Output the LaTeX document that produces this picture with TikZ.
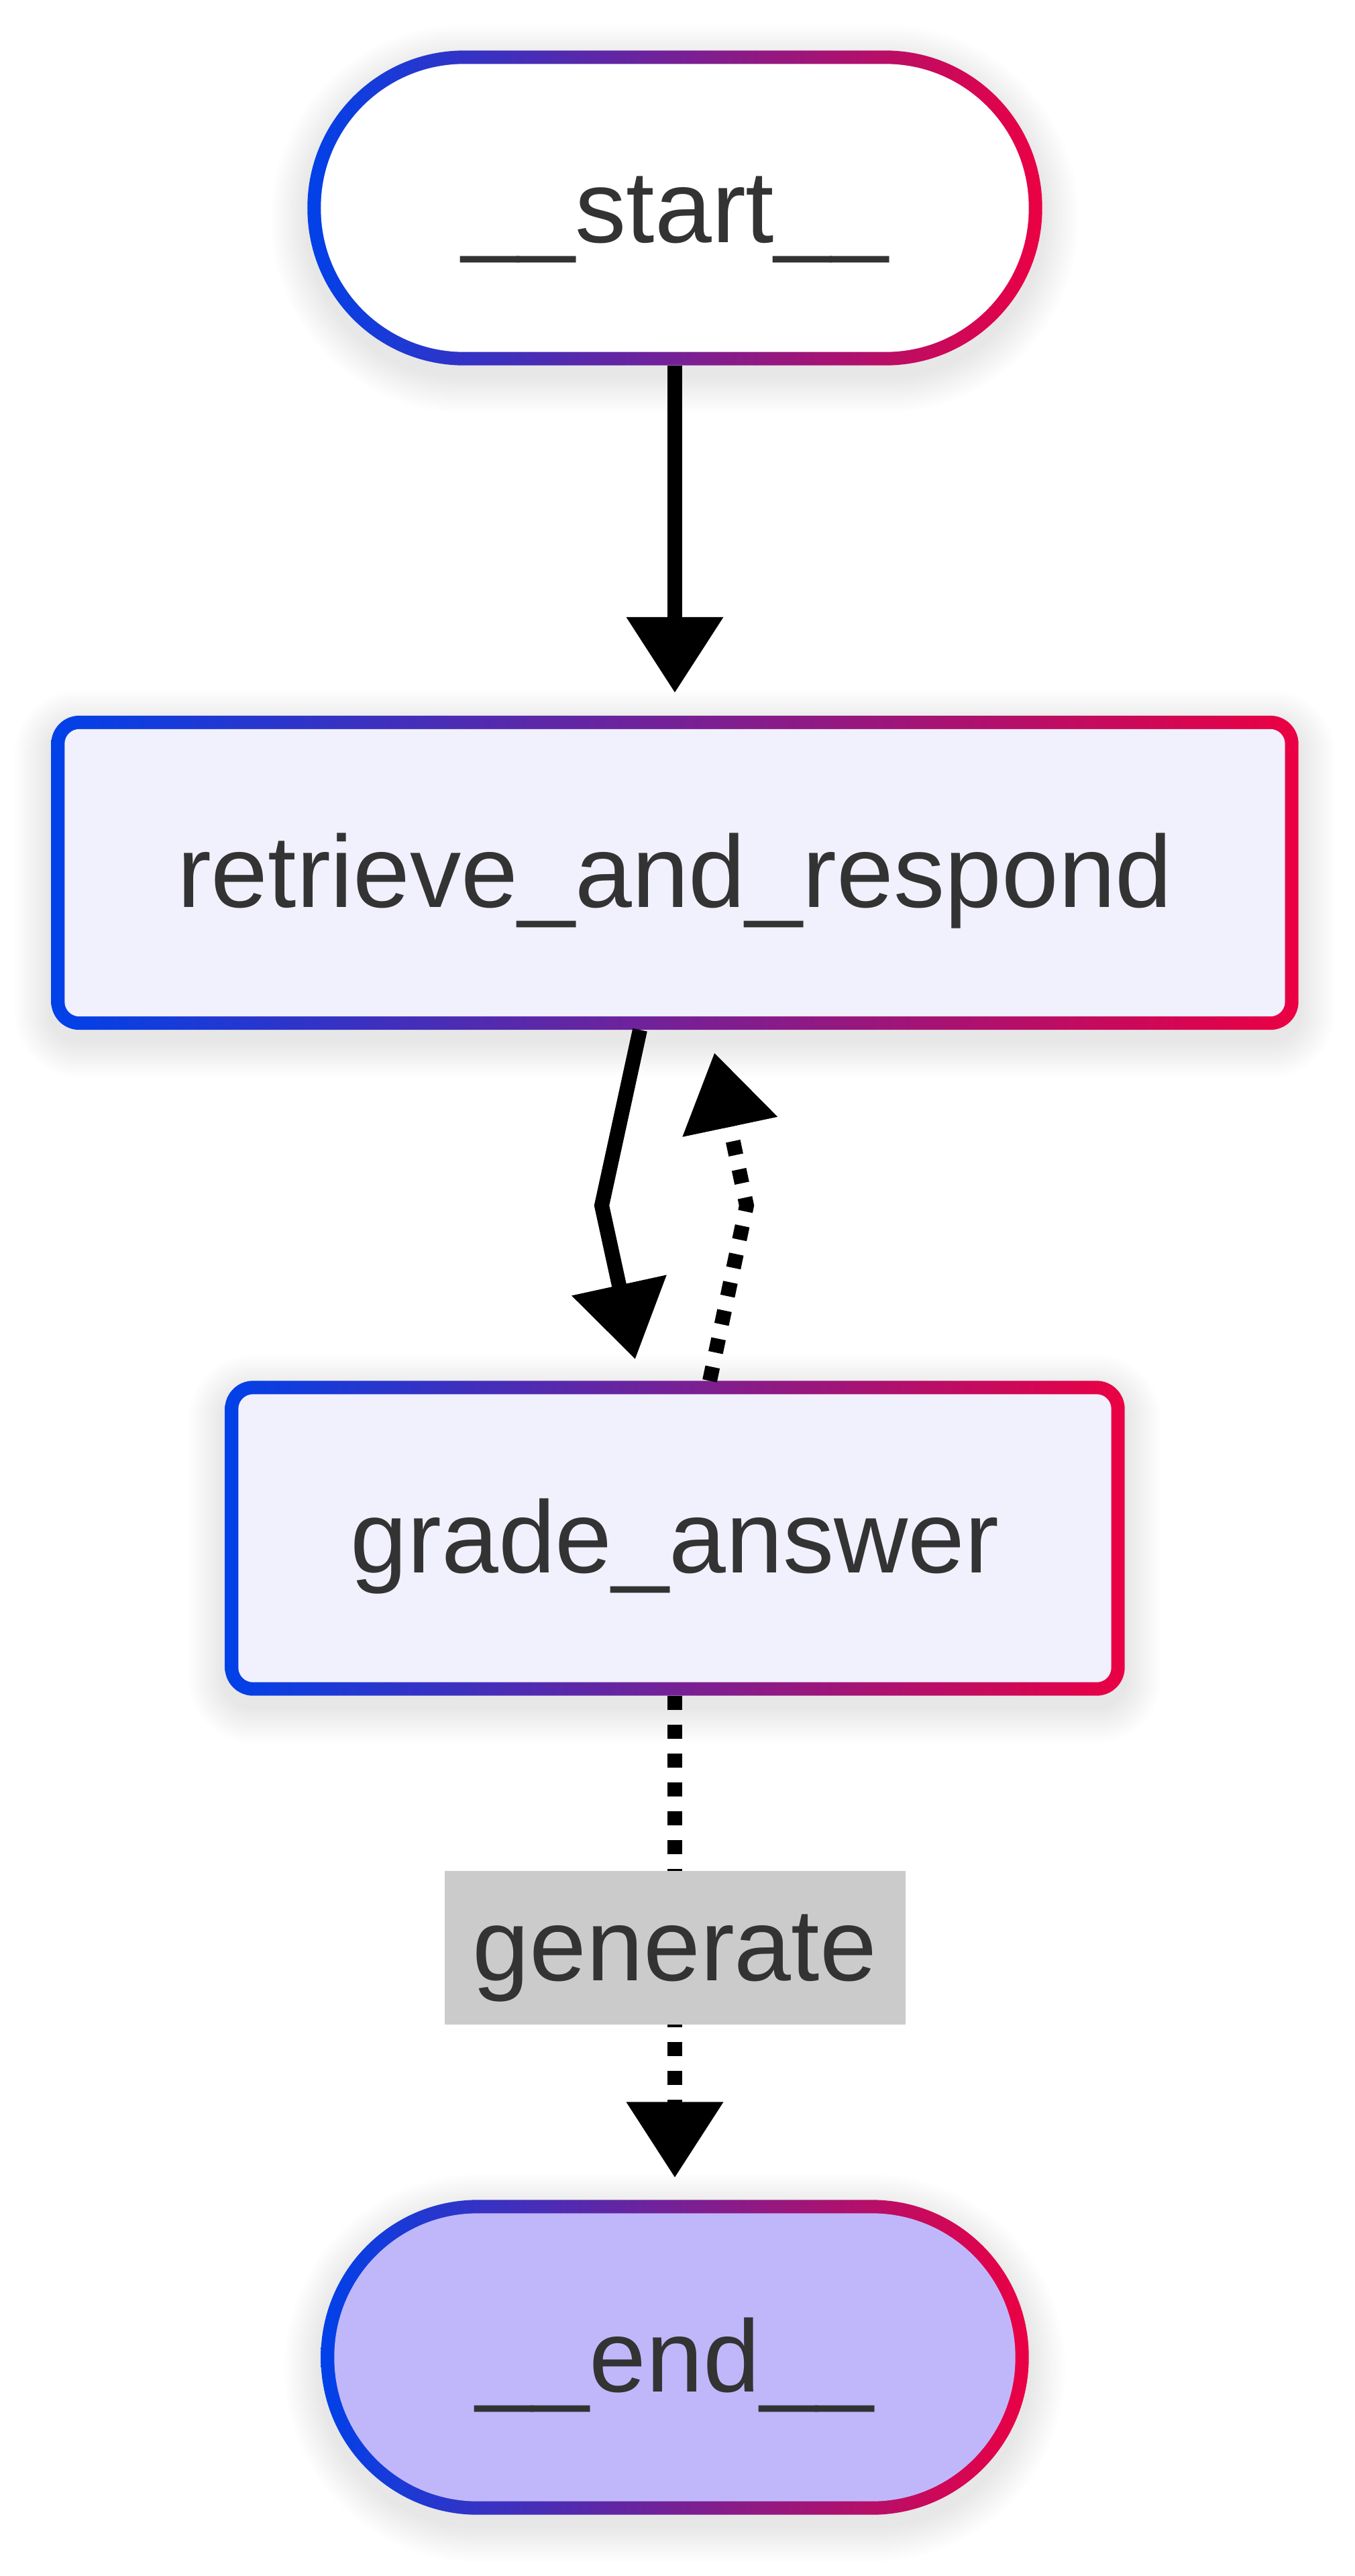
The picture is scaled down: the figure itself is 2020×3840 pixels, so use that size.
\documentclass[tikz,border=0pt]{standalone}
\usepackage{fontspec}
\setmainfont{Liberation Sans}
\usetikzlibrary{arrows.meta,calc,backgrounds}
\definecolor{bblue}{HTML}{0041E9}
\definecolor{bred}{HTML}{EB0043}
\definecolor{nodefill}{HTML}{F1F0FD}
\definecolor{endfill}{HTML}{C0B7FA}
\definecolor{txt}{HTML}{333333}
\definecolor{lblfill}{HTML}{CBCBCB}
\tikzset{
  box/.style={inner sep=0pt, text=txt, font=\fontsize{43.4pt}{50pt}\selectfont, text height=10.8mm, text depth=0.6mm},
  conn/.style={line width=2.2mm, draw=black, -{Triangle[length=11.3mm,width=13.9mm]}},
  dconn/.style={conn, dash pattern=on 2.1mm off 2.2mm},
  lbl/.style={fill=lblfill, inner sep=0pt, minimum width=68.7mm, minimum height=22.9mm, text=txt, font=\fontsize{43.4pt}{50pt}\selectfont, text height=10.3mm, text depth=0.6mm}
}
\newcommand\gbox[3]{%
  \begin{scope}[on background layer]
    \foreach \i in {1,...,12}{
      \pgfmathsetmacro\rr{(#2+\i*4.5)/10}
      \fill[black, opacity=0.008, rounded corners=\rr mm] ($(#1.south west)+(-\i*4.5,\i*4.5+16)$) rectangle ($(#1.north east)+(\i*4.5,-\i*4.5+16)$);
    }
    \pgfmathsetmacro\ro{#2/10}
    \shade[left color=bblue, right color=bred, rounded corners=\ro mm] (#1.south west) rectangle (#1.north east);
    \pgfmathsetmacro\ri{(#2-20)/10}
    \fill[#3, rounded corners=\ri mm] ($(#1.south west)+(20,-20)$) rectangle ($(#1.north east)+(-20,20)$);
  \end{scope}}
\begin{document}
\begin{tikzpicture}[x=0.1mm,y=-0.1mm]
\begin{scope}[on background layer]
\fill[white] (0,0) rectangle (2020,3840);
\end{scope}
\useasboundingbox (0,0) rectangle (2020,3840);

\node[box, minimum width=109.4mm, minimum height=46.8mm] (start) at (1006,310) {\_\_start\_\_};
\node[box, minimum width=185.8mm, minimum height=46.7mm] (retrieve) at (1006,1301) {retrieve\_and\_respond};
\node[box, minimum width=134.0mm, minimum height=46.8mm] (grade) at (1006,2293) {grade\_answer};
\node[box, minimum width=105.4mm, minimum height=46.8mm] (end) at (1006,3514) {\_\_end\_\_};

\gbox{start}{234}{white}
\gbox{retrieve}{42}{nodefill}
\gbox{grade}{42}{nodefill}
\gbox{end}{234}{endfill}

\coordinate (b1) at (897,1797);
\coordinate (b2) at (1113,1797);

\draw[conn] (start.south) -- ($(retrieve.north)+(0,-34)$);
\draw[conn] ($(retrieve.south)+(-52,0)$) -- (b1) -- ($(grade.north)+(-59,-32)$);
\draw[dconn] ($(grade.north)+(52,0)$) -- (b2) -- ($(retrieve.south)+(59,34)$);
\draw[dconn] (grade.south) -- ($(end.north)+(0,-33)$) node[lbl, pos=0.523] (lab) {generate};
\end{tikzpicture}
\end{document}
